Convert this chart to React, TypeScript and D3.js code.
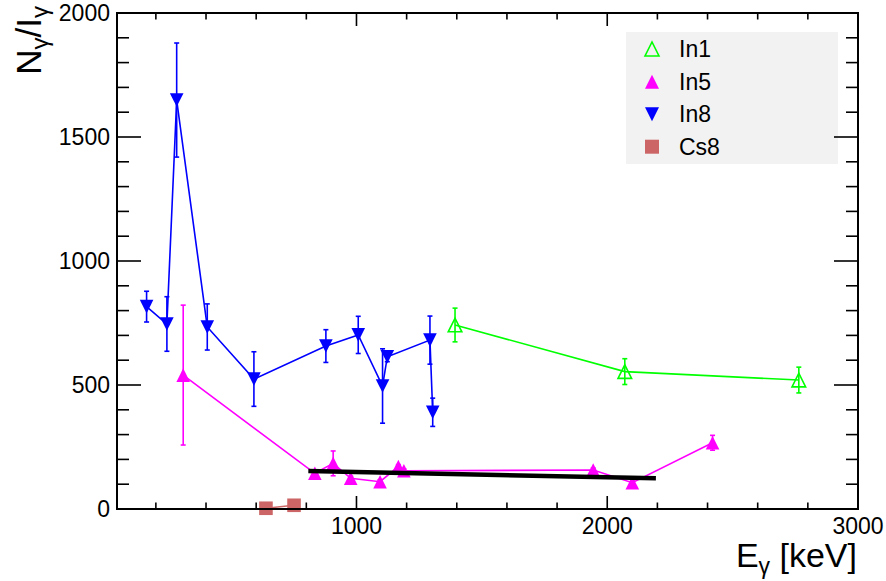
import React from "react";
import * as d3 from "d3";

// ---- data ----
const in1E = [1393, 2070, 2764];
const in1Y = [742, 554, 520];
const in1Err = [68, 52, 52];

const in5E = [309, 834, 907, 977, 1094, 1167, 1189, 1944, 2100, 2420];
const in5Y = [540, 144, 184, 124, 110, 171, 154, 157, 106, 267];
const in5Err = [282, 8, 50, 8, 8, 8, 8, 8, 8, 30];

const in8E = [163, 244, 283, 405, 591, 878, 1007, 1104, 1123, 1293, 1304];
const in8Y = [816, 746, 1649, 734, 524, 657, 702, 496, 614, 681, 390];
const in8Err = [62, 110, 230, 93, 110, 66, 75, 150, 20, 97, 57];

const cs8E = [639, 751];
const cs8Y = [3, 15];

const fitE = [808, 2194];
const fitY = [153, 124];

const xTicks = [1000, 2000, 3000];
const yTicks = [0, 500, 1000, 1500, 2000];
const legendNames = ["In1", "In5", "In8", "Cs8"];

const W = 886, H = 581;
const L = 117, R = 858, T = 13, B = 509;
const FONT = "'Liberation Sans', Arial, Helvetica, sans-serif";

const x = d3.scaleLinear().domain([45, 3000]).range([L, R]);
const y = d3.scaleLinear().domain([0, 2000]).range([B, T]);

type Marker = "openUp" | "up" | "down" | "square";

function MarkerShape({ cx, cy, type, color, s = 6.8 }: { cx: number; cy: number; type: Marker; color: string; s?: number }) {
  if (type === "square") {
    return <rect x={cx - s} y={cy - s} width={2 * s} height={2 * s} fill={color} />;
  }
  if (type === "down") {
    return <path d={`M${cx - s},${cy - s}L${cx + s},${cy - s}L${cx},${cy + s}Z`} fill={color} />;
  }
  if (type === "up") {
    return <path d={`M${cx - s},${cy + s}L${cx + s},${cy + s}L${cx},${cy - s}Z`} fill={color} />;
  }
  return (
    <path
      d={`M${cx - s},${cy + s}L${cx + s},${cy + s}L${cx},${cy - s}Z`}
      fill="none"
      stroke={color}
      strokeWidth={1.6}
    />
  );
}

function Series({ E, Y, Err, color, type }: { E: number[]; Y: number[]; Err?: number[]; color: string; type: Marker }) {
  const pts: [number, number][] = E.map((e, i) => [e, Y[i]]);
  const line = d3
    .line<[number, number]>()
    .x((d) => x(d[0]))
    .y((d) => y(d[1]));
  return (
    <g>
      <path d={line(pts) || ""} fill="none" stroke={color} strokeWidth={1.6} />
      {Err &&
        E.map((e, i) => {
          const cx = x(e);
          const y1 = y(Y[i] + Err[i]);
          const y2 = y(Y[i] - Err[i]);
          return (
            <g key={"e" + i} stroke={color} strokeWidth={1.6}>
              <line x1={cx} x2={cx} y1={y1} y2={y2} />
              <line x1={cx - 2.5} x2={cx + 2.5} y1={y1} y2={y1} />
              <line x1={cx - 2.5} x2={cx + 2.5} y1={y2} y2={y2} />
            </g>
          );
        })}
      {E.map((e, i) => (
        <MarkerShape key={"m" + i} cx={x(e)} cy={y(Y[i])} type={type} color={color} />
      ))}
    </g>
  );
}

export default function App() {
  const xMinor = d3.range(200, 3001, 200);
  const yMinor = d3.range(0, 2001, 100);
  const fitLine = d3
    .line<number>()
    .x((e) => x(e))
    .y((_, i) => y(fitY[i]));

  const legendColors = ["#00ff00", "#ff00ff", "#0000ff", "#cc6666"];
  const legendTypes: Marker[] = ["openUp", "up", "down", "square"];
  const legendRowY = [49, 81.7, 114.3, 146.7];

  return (
    <svg
      width={W}
      height={H}
      style={{ position: "absolute", left: 0, top: 0, display: "block", background: "#fff" }}
      fontFamily={FONT}
    >
      <rect x={0} y={0} width={W} height={H} fill="#fff" />

      {/* data */}
      <Series E={in1E} Y={in1Y} Err={in1Err} color="#00ff00" type="openUp" />
      <Series E={in5E} Y={in5Y} Err={in5Err} color="#ff00ff" type="up" />
      <Series E={in8E} Y={in8Y} Err={in8Err} color="#0000ff" type="down" />
      <Series E={cs8E} Y={cs8Y} color="#cc6666" type="square" />
      <path d={fitLine(fitE) || ""} stroke="#000" strokeWidth={4.5} fill="none" />

      {/* legend */}
      <rect x={626} y={32} width={212} height={132} fill="#f2f2f2" />
      {legendNames.map((n, i) => (
        <g key={n}>
          <MarkerShape cx={652} cy={legendRowY[i]} type={legendTypes[i]} color={legendColors[i]} s={7} />
          <text x={679} y={legendRowY[i] + 8} fontSize={23} fill="#000">
            {n}
          </text>
        </g>
      ))}

      {/* frame */}
      <rect x={L} y={T} width={R - L} height={B - T} fill="none" stroke="#000" strokeWidth={2} />

      {/* x ticks */}
      {xMinor.map((v) => {
        if (x(v) < L || x(v) > R) return null;
        const major = v % 1000 === 0;
        const len = major ? 13 : 6.5;
        return (
          <g key={"xt" + v} stroke="#000" strokeWidth={1.6}>
            <line x1={x(v)} x2={x(v)} y1={B} y2={B - len} />
            <line x1={x(v)} x2={x(v)} y1={T} y2={T + len} />
          </g>
        );
      })}
      {xTicks.map((v) => (
        <text key={"xl" + v} x={x(v)} y={534} fontSize={23} textAnchor="middle" fill="#000">
          {v}
        </text>
      ))}

      {/* y ticks */}
      {yMinor.map((v) => {
        const major = v % 500 === 0;
        const len = major ? 24 : 12;
        return (
          <g key={"yt" + v} stroke="#000" strokeWidth={1.6}>
            <line x1={L} x2={L + len} y1={y(v)} y2={y(v)} />
            <line x1={R} x2={R - len} y1={y(v)} y2={y(v)} />
          </g>
        );
      })}
      {yTicks.map((v) => (
        <text key={"yl" + v} x={110} y={y(v) + 8} fontSize={23} textAnchor="end" fill="#000">
          {v}
        </text>
      ))}

      {/* axis titles */}
      <text x={857} y={567} fontSize={34} textAnchor="end" fill="#000">
        E
        <tspan fontSize={23} dy={7}>γ</tspan>
        <tspan dy={-7}> [keV]</tspan>
      </text>
      <text transform="translate(41,6) rotate(-90)" fontSize={35} textAnchor="end" fill="#000">
        N
        <tspan fontSize={24} dy={7}>γ</tspan>
        <tspan dy={-7}>/I</tspan>
        <tspan fontSize={24} dy={7}>γ</tspan>
      </text>
    </svg>
  );
}
